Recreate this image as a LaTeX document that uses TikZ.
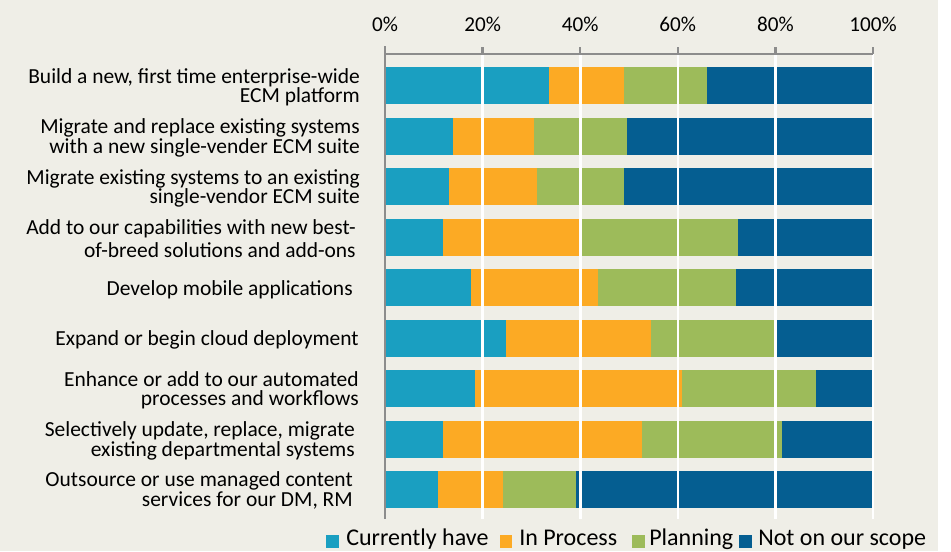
\documentclass[tikz,border=0pt]{standalone}
\usepackage{fontspec}
\setmainfont{Carlito}
\usetikzlibrary{positioning}

\definecolor{curhave}{RGB}{26,159,193}
\definecolor{inproc}{RGB}{252,170,36}
\definecolor{planning}{RGB}{157,187,90}
\definecolor{notscope}{RGB}{5,94,145}
\definecolor{chartbg}{RGB}{239,238,231}
\definecolor{axisgray}{RGB}{140,140,140}

\begin{document}
\begin{tikzpicture}[x=0.75pt,y=0.75pt,yscale=-1,xscale=1,
    rowlbl/.style={anchor=east,align=right,inner sep=0pt,font=\fontsize{16.1}{14.6}\selectfont},
    ticklbl/.style={anchor=base,inner sep=0pt,font=\fontsize{15.9}{18}\selectfont},
    keylbl/.style={anchor=base west,inner sep=0pt,font=\fontsize{18}{20}\selectfont},
    gridln/.style={draw=white,line width=1.95pt},
    axisln/.style={draw=axisgray,line width=1.9pt}]
        \useasboundingbox (0,0) rectangle (951,551);
        \fill [white] (0,0) rectangle (951,551);
        \fill [chartbg] (0,0) rectangle (938,551);

        %Bar 1
        \fill [curhave]  (385,67) rectangle (548.5,104);
        \fill [inproc]   (548.5,67) rectangle (623.5,104);
        \fill [planning] (623.5,67) rectangle (706.5,104);
        \fill [notscope] (706.5,67) rectangle (872,104);
        %Bar 2
        \fill [curhave]  (385,117.5) rectangle (452.5,154.5);
        \fill [inproc]   (452.5,117.5) rectangle (533.5,154.5);
        \fill [planning] (533.5,117.5) rectangle (626.5,154.5);
        \fill [notscope] (626.5,117.5) rectangle (872,154.5);
        %Bar 3
        \fill [curhave]  (385,168) rectangle (448.5,205);
        \fill [inproc]   (448.5,168) rectangle (536.5,205);
        \fill [planning] (536.5,168) rectangle (623.5,205);
        \fill [notscope] (623.5,168) rectangle (872,205);
        %Bar 4
        \fill [curhave]  (385,218.5) rectangle (443,255.5);
        \fill [inproc]   (443,218.5) rectangle (581,255.5);
        \fill [planning] (581,218.5) rectangle (737.5,255.5);
        \fill [notscope] (737.5,218.5) rectangle (872,255.5);
        %Bar 5
        \fill [curhave]  (385,269) rectangle (470.5,306);
        \fill [inproc]   (470.5,269) rectangle (597.5,306);
        \fill [planning] (597.5,269) rectangle (736,306);
        \fill [notscope] (736,269) rectangle (872,306);
        %Bar 6
        \fill [curhave]  (385,319.5) rectangle (505.5,356.5);
        \fill [inproc]   (505.5,319.5) rectangle (650.5,356.5);
        \fill [planning] (650.5,319.5) rectangle (773.5,356.5);
        \fill [notscope] (773.5,319.5) rectangle (872,356.5);
        %Bar 7
        \fill [curhave]  (385,370) rectangle (474.5,407);
        \fill [inproc]   (474.5,370) rectangle (682,407);
        \fill [planning] (682,370) rectangle (815.5,407);
        \fill [notscope] (815.5,370) rectangle (872,407);
        %Bar 8
        \fill [curhave]  (385,420.5) rectangle (443,457.5);
        \fill [inproc]   (443,420.5) rectangle (642,457.5);
        \fill [planning] (642,420.5) rectangle (782,457.5);
        \fill [notscope] (782,420.5) rectangle (872,457.5);
        %Bar 9
        \fill [curhave]  (385,471) rectangle (438,508);
        \fill [inproc]   (438,471) rectangle (502.5,508);
        \fill [planning] (502.5,471) rectangle (575.5,508);
        \fill [notscope] (575.5,471) rectangle (872,508);

        %Grid lines
        \draw [gridln] (482.6,54) -- (482.6,519) ;
        \draw [gridln] (580.2,54) -- (580.2,519) ;
        \draw [gridln] (677.8,54) -- (677.8,519) ;
        \draw [gridln] (775.4,54) -- (775.4,519) ;
        \draw [gridln] (873,54) -- (873,519) ;

        %Axes and ticks
        \draw [axisln] (385,46) -- (385,519) ;
        \draw [axisln] (385,54) -- (873,54) ;
        \draw [axisln] (482.6,47) -- (482.6,54) ;
        \draw [axisln] (580.2,47) -- (580.2,54) ;
        \draw [axisln] (677.8,47) -- (677.8,54) ;
        \draw [axisln] (775.4,47) -- (775.4,54) ;
        \draw [axisln] (873,47) -- (873,54) ;

        %Tick labels
        \node [ticklbl] (t0) at (385,31) {0\%};
        \node [ticklbl] (t20) at (482.6,31) {20\%};
        \node [ticklbl] (t40) at (580.2,31) {40\%};
        \node [ticklbl] (t60) at (677.8,31) {60\%};
        \node [ticklbl] (t80) at (775.4,31) {80\%};
        \node [ticklbl] (t100) at (873,31) {100\%};

        %Row labels
        \node [rowlbl] (row1) at (360,87.5) {Build a new, first time enterprise-wide\\ECM platform};
        \node [rowlbl] (row2) at (360,138) {Migrate and replace existing systems\\with a new single-vender ECM suite};
        \node [rowlbl] (row3) at (360,188.5) {Migrate existing systems to an existing\\single-vendor ECM suite};
        \node [rowlbl] (row4) at (356,239) {Add to our capabilities with new best-\\[2.5pt]of-breed solutions and add-ons};
        \node [rowlbl] (row5) at (353,289.5) {Develop mobile applications};
        \node [rowlbl] (row6) at (359,340) {Expand or begin cloud deployment};
        \node [rowlbl] (row7) at (359,390.5) {Enhance or add to our automated\\processes and workflows};
        \node [rowlbl] (row8) at (355,441) {Selectively update, replace, migrate\\existing departmental systems};
        \node [rowlbl] (row9) at (353,490.5) {Outsource or use managed content\\services for our DM, RM};

        %Legend
        \fill [curhave]  (326,535) rectangle (338.5,548);
        \node [keylbl] (keycur) at (346,545.5) {Currently have};
        \fill [inproc]   (499.5,535) rectangle (512,548);
        \node [keylbl] (keyproc) at (519,545.5) {In Process};
        \fill [planning] (632,535) rectangle (644.5,548);
        \node [keylbl] (keyplan) at (649,545.5) {Planning};
        \fill [notscope] (739,535) rectangle (751.5,548);
        \node [keylbl] (keynot) at (758,545.5) {Not on our scope};
\end{tikzpicture}
\end{document}
